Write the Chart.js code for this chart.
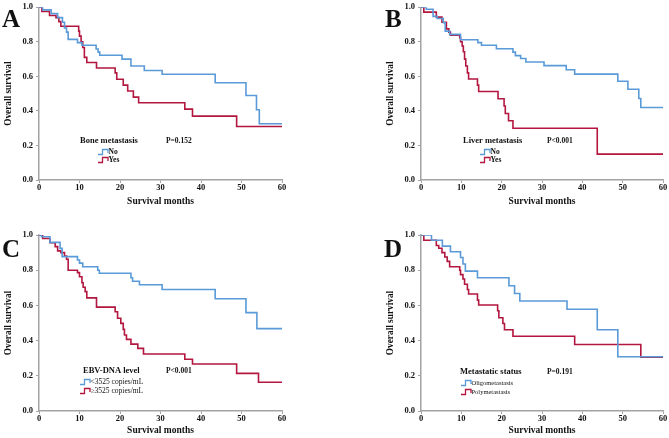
<!DOCTYPE html>
<html><head><meta charset="utf-8">
<script src="https://cdn.jsdelivr.net/npm/chart.js@4.4.1/dist/chart.umd.min.js"></script>
<style>
html,body{margin:0;padding:0;background:#fff;}
#wrap{position:relative;width:669px;height:438px;overflow:hidden;background:#fff;}
canvas{position:absolute;}
</style></head><body><div id="wrap">
<canvas id="cA" width="335" height="219" style="left:0;top:0"></canvas>
<canvas id="cB" width="334" height="219" style="left:335px;top:0"></canvas>
<canvas id="cC" width="335" height="219" style="left:0;top:219px"></canvas>
<canvas id="cD" width="334" height="219" style="left:335px;top:219px"></canvas>
</div>
<script>
// ---- tick labels ----
const monthTicks = [0, 10, 20, 30, 40, 50, 60];
const survTicks = [0, 0.2, 0.4, 0.6, 0.8, 1.0];

// ---- Panel A: Bone metastasis ----
const aNoT  = [0, 0.9, 3.0, 4.6, 5.8, 6.3, 6.8, 7.2, 9.5, 10.6, 14.1, 14.6, 15.0, 20.5, 22.7, 26.0, 30.4, 43.5, 51.1, 53.7, 54.4, 60];
const aNoS  = [1, 0.985, 0.963, 0.94, 0.913, 0.88, 0.856, 0.814, 0.795, 0.78, 0.758, 0.74, 0.722, 0.70, 0.66, 0.634, 0.612, 0.563, 0.489, 0.407, 0.326, 0.326];
const aYesT = [0, 0.7, 2.6, 4.2, 4.9, 5.4, 9.8, 10.0, 10.4, 10.8, 11.2, 11.8, 14.2, 18.8, 19.2, 20.8, 21.9, 23.3, 24.6, 36.0, 37.9, 48.8, 60];
const aYesS = [1, 0.975, 0.952, 0.94, 0.917, 0.89, 0.862, 0.833, 0.80, 0.767, 0.71, 0.68, 0.648, 0.62, 0.583, 0.549, 0.515, 0.48, 0.447, 0.41, 0.37, 0.31, 0.31];

// ---- Panel B: Liver metastasis ----
const bNoT  = [0, 1.3, 3.0, 4.0, 5.5, 6.0, 7.1, 9.8, 14.1, 15.0, 18.7, 22.8, 23.4, 24.7, 26.0, 30.5, 36.0, 38.1, 48.8, 51.3, 54.0, 54.5, 60];
const bNoS  = [1, 0.988, 0.947, 0.935, 0.91, 0.862, 0.843, 0.812, 0.795, 0.78, 0.76, 0.74, 0.72, 0.703, 0.683, 0.662, 0.638, 0.613, 0.572, 0.525, 0.472, 0.42, 0.42];
const bYesT = [0, 0.7, 3.8, 5.2, 6.3, 6.9, 7.3, 9.6, 9.8, 10.2, 10.5, 10.8, 11.1, 11.5, 11.8, 14.0, 14.3, 19.1, 20.6, 20.9, 21.7, 22.8, 43.7, 60];
const bYesS = [1, 0.972, 0.943, 0.913, 0.875, 0.856, 0.838, 0.824, 0.80, 0.776, 0.742, 0.70, 0.66, 0.62, 0.585, 0.549, 0.512, 0.47, 0.428, 0.385, 0.343, 0.30, 0.15, 0.15];

// ---- Panel C: EBV-DNA level ----
const cLoT = [0, 0.6, 2.7, 5.2, 5.7, 9.5, 10.0, 10.8, 14.5, 14.9, 22.7, 23.1, 24.8, 30.4, 43.5, 51.1, 53.8, 60];
const cLoS = [1, 0.99, 0.958, 0.924, 0.877, 0.858, 0.84, 0.82, 0.80, 0.783, 0.757, 0.737, 0.717, 0.69, 0.638, 0.559, 0.468, 0.468];
const cHiT = [0, 0.9, 2.7, 4.0, 4.6, 5.4, 6.3, 6.8, 7.2, 9.5, 10.0, 10.6, 10.9, 11.4, 11.8, 14.2, 18.8, 19.4, 20.2, 20.8, 21.1, 21.6, 22.7, 24.4, 25.8, 36.0, 37.9, 48.8, 54.2, 60];
const cHiS = [1, 0.98, 0.956, 0.934, 0.91, 0.9, 0.88, 0.862, 0.80, 0.786, 0.763, 0.729, 0.703, 0.678, 0.643, 0.59, 0.564, 0.527, 0.498, 0.464, 0.432, 0.407, 0.38, 0.356, 0.324, 0.294, 0.267, 0.214, 0.163, 0.163];

// ---- Panel D: Metastatic status ----
const dOligoT = [0, 2.6, 5.3, 7.3, 9.8, 10.4, 11.0, 14.0, 21.8, 23.2, 24.5, 36.2, 43.7, 48.8, 60];
const dOligoS = [1, 0.97, 0.937, 0.905, 0.872, 0.835, 0.795, 0.757, 0.712, 0.668, 0.625, 0.578, 0.462, 0.308, 0.308];
const dPolyT  = [0, 0.7, 3.8, 4.4, 5.2, 5.9, 6.5, 7.1, 9.6, 9.8, 10.4, 10.8, 11.5, 11.8, 14.0, 14.3, 19.0, 19.3, 20.3, 20.7, 22.8, 38.1, 54.5, 60];
const dPolyS  = [1, 0.97, 0.94, 0.925, 0.9, 0.875, 0.85, 0.82, 0.8, 0.775, 0.75, 0.72, 0.69, 0.665, 0.63, 0.602, 0.57, 0.53, 0.497, 0.462, 0.425, 0.378, 0.305, 0.305];

const BLUE = '#5a9ad8';
const RED = '#b3173f';
const AXIS = '#a3a3a3';
const TXT = '#111111';
const F = "'Liberation Serif','Times New Roman',serif";

function makePanel(id, p) {
  const canvas = document.getElementById(id);
  const W = canvas.width, H = canvas.height;
  const legendPlugin = {
    id: 'kmLegend' + id,
    afterDraw(chart) {
      const ctx = chart.ctx, a = chart.chartArea;
      ctx.save();
      ctx.fillStyle = TXT;
      ctx.textBaseline = 'middle';
      ctx.textAlign = 'left';
      ctx.font = 'bold 8.5px ' + F;
      ctx.fillText(p.legendTitle, a.left + p.lg.tx, a.bottom + p.lg.ty);
      ctx.font = 'bold 7.5px ' + F;
      ctx.fillText(p.pText, a.left + p.lg.px, a.bottom + p.lg.ty);
      p.series.forEach((s, i) => {
        const y = a.bottom + p.lg.iy[i];
        const x0 = a.left + p.lg.sx;
        ctx.strokeStyle = s.color;
        ctx.lineWidth = 1.3;
        ctx.beginPath();
        ctx.moveTo(x0, y + 2.5);
        ctx.lineTo(x0 + 4.5, y + 2.5);
        ctx.lineTo(x0 + 4.5, y - 2.5);
        ctx.lineTo(x0 + 10, y - 2.5);
        ctx.lineTo(x0 + 10, y + 1);
        ctx.stroke();
        ctx.fillStyle = TXT;
        ctx.font = p.lg.itemFont;
        ctx.fillText(s.label, x0 + 10.5, y);
      });
      ctx.font = 'bold 25px ' + F;
      ctx.textBaseline = 'alphabetic';
      ctx.fillText(p.letter, p.letterX, p.letterY);
      ctx.restore();
    }
  };
  const gridOpt = { display: true, drawOnChartArea: false, drawTicks: true, tickLength: 3, color: AXIS, lineWidth: 1 };
  new Chart(canvas, {
    type: 'line',
    data: {
      datasets: p.series.map(s => ({
        label: s.label,
        data: s.t.map((t, i) => ({ x: t, y: s.s[i] })),
        borderColor: s.color,
        borderWidth: 1.6,
        stepped: 'before',
        pointRadius: 0,
        fill: false,
        tension: 0
      }))
    },
    options: {
      responsive: false,
      animation: false,
      events: [],
      layout: { padding: { left: p.plotLeft - 39, top: p.plotTop, right: W - p.plotRight, bottom: 0 } },
      plugins: { legend: { display: false }, tooltip: { enabled: false } },
      scales: {
        x: {
          type: 'linear', min: 0, max: 60,
          afterBuildTicks: s => { s.ticks = monthTicks.map(v => ({ value: v })); },
          afterFit: s => { s.height = H - p.plotBottom; },
          grid: gridOpt,
          border: { display: true, color: AXIS, width: 1.5 },
          ticks: { font: { family: F, size: 8.5, weight: 'bold', lineHeight: 1 }, color: TXT, padding: 1, maxRotation: 0, autoSkip: false },
          title: { display: true, text: 'Survival months', font: { family: F, size: 9.5, weight: 'bold', lineHeight: 1.2 }, color: TXT,
                   padding: { top: 0, bottom: H - p.plotBottom - p.xTitleOff - 5.7 } }
        },
        y: {
          type: 'linear', min: 0, max: 1,
          afterBuildTicks: s => { s.ticks = survTicks.map(v => ({ value: v })); },
          afterFit: s => { s.width = 39; },
          grid: gridOpt,
          border: { display: true, color: AXIS, width: 1.5 },
          ticks: { callback: v => Number(v).toFixed(1), font: { family: F, size: 8.5, weight: 'bold', lineHeight: 1 }, color: TXT, padding: 3 },
          title: { display: true, text: 'Overall survival', font: { family: F, size: 9.3, weight: 'bold', lineHeight: 1.2 }, color: TXT,
                   padding: { top: 3, bottom: 0 } }
        }
      }
    },
    plugins: [legendPlugin]
  });
}

makePanel('cA', {
  plotLeft: 39, plotRight: 282, plotTop: 4, plotBottom: 180, xTitleOff: 22,
  letter: 'A', letterX: 2, letterY: 27,
  legendTitle: 'Bone metastasis', pText: 'P=0.152',
  lg: { tx: 41, ty: -39, px: 127, sx: 59, iy: [-28, -20], itemFont: 'bold 7.5px ' + F },
  series: [
    { label: 'No', t: aNoT, s: aNoS, color: BLUE },
    { label: 'Yes', t: aYesT, s: aYesS, color: RED }
  ]
});
makePanel('cB', {
  plotLeft: 86, plotRight: 328, plotTop: 4, plotBottom: 180, xTitleOff: 22,
  letter: 'B', letterX: 50, letterY: 27,
  legendTitle: 'Liver metastasis', pText: 'P<0.001',
  lg: { tx: 42, ty: -39, px: 126, sx: 59, iy: [-28, -20], itemFont: 'bold 7.5px ' + F },
  series: [
    { label: 'No', t: bNoT, s: bNoS, color: BLUE },
    { label: 'Yes', t: bYesT, s: bYesS, color: RED }
  ]
});
makePanel('cC', {
  plotLeft: 39, plotRight: 282, plotTop: 16, plotBottom: 192, xTitleOff: 20,
  letter: 'C', letterX: 2, letterY: 38,
  legendTitle: 'EBV-DNA level', pText: 'P<0.001',
  lg: { tx: 44, ty: -40, px: 127, sx: 41, iy: [-29, -20], itemFont: '7.5px ' + F },
  series: [
    { label: '<3525 copies/mL', t: cLoT, s: cLoS, color: BLUE },
    { label: '\u22653525 copies/mL', t: cHiT, s: cHiS, color: RED }
  ]
});
makePanel('cD', {
  plotLeft: 86, plotRight: 328, plotTop: 16, plotBottom: 192, xTitleOff: 20,
  letter: 'D', letterX: 49, letterY: 38,
  legendTitle: 'Metastatic status', pText: 'P=0.191',
  lg: { tx: 39, ty: -39, px: 126, sx: 40, iy: [-28, -19], itemFont: '6.5px ' + F },
  series: [
    { label: 'Oligometastasis', t: dOligoT, s: dOligoS, color: BLUE },
    { label: 'Polymetastasis', t: dPolyT, s: dPolyS, color: RED }
  ]
});
</script>
</body></html>
